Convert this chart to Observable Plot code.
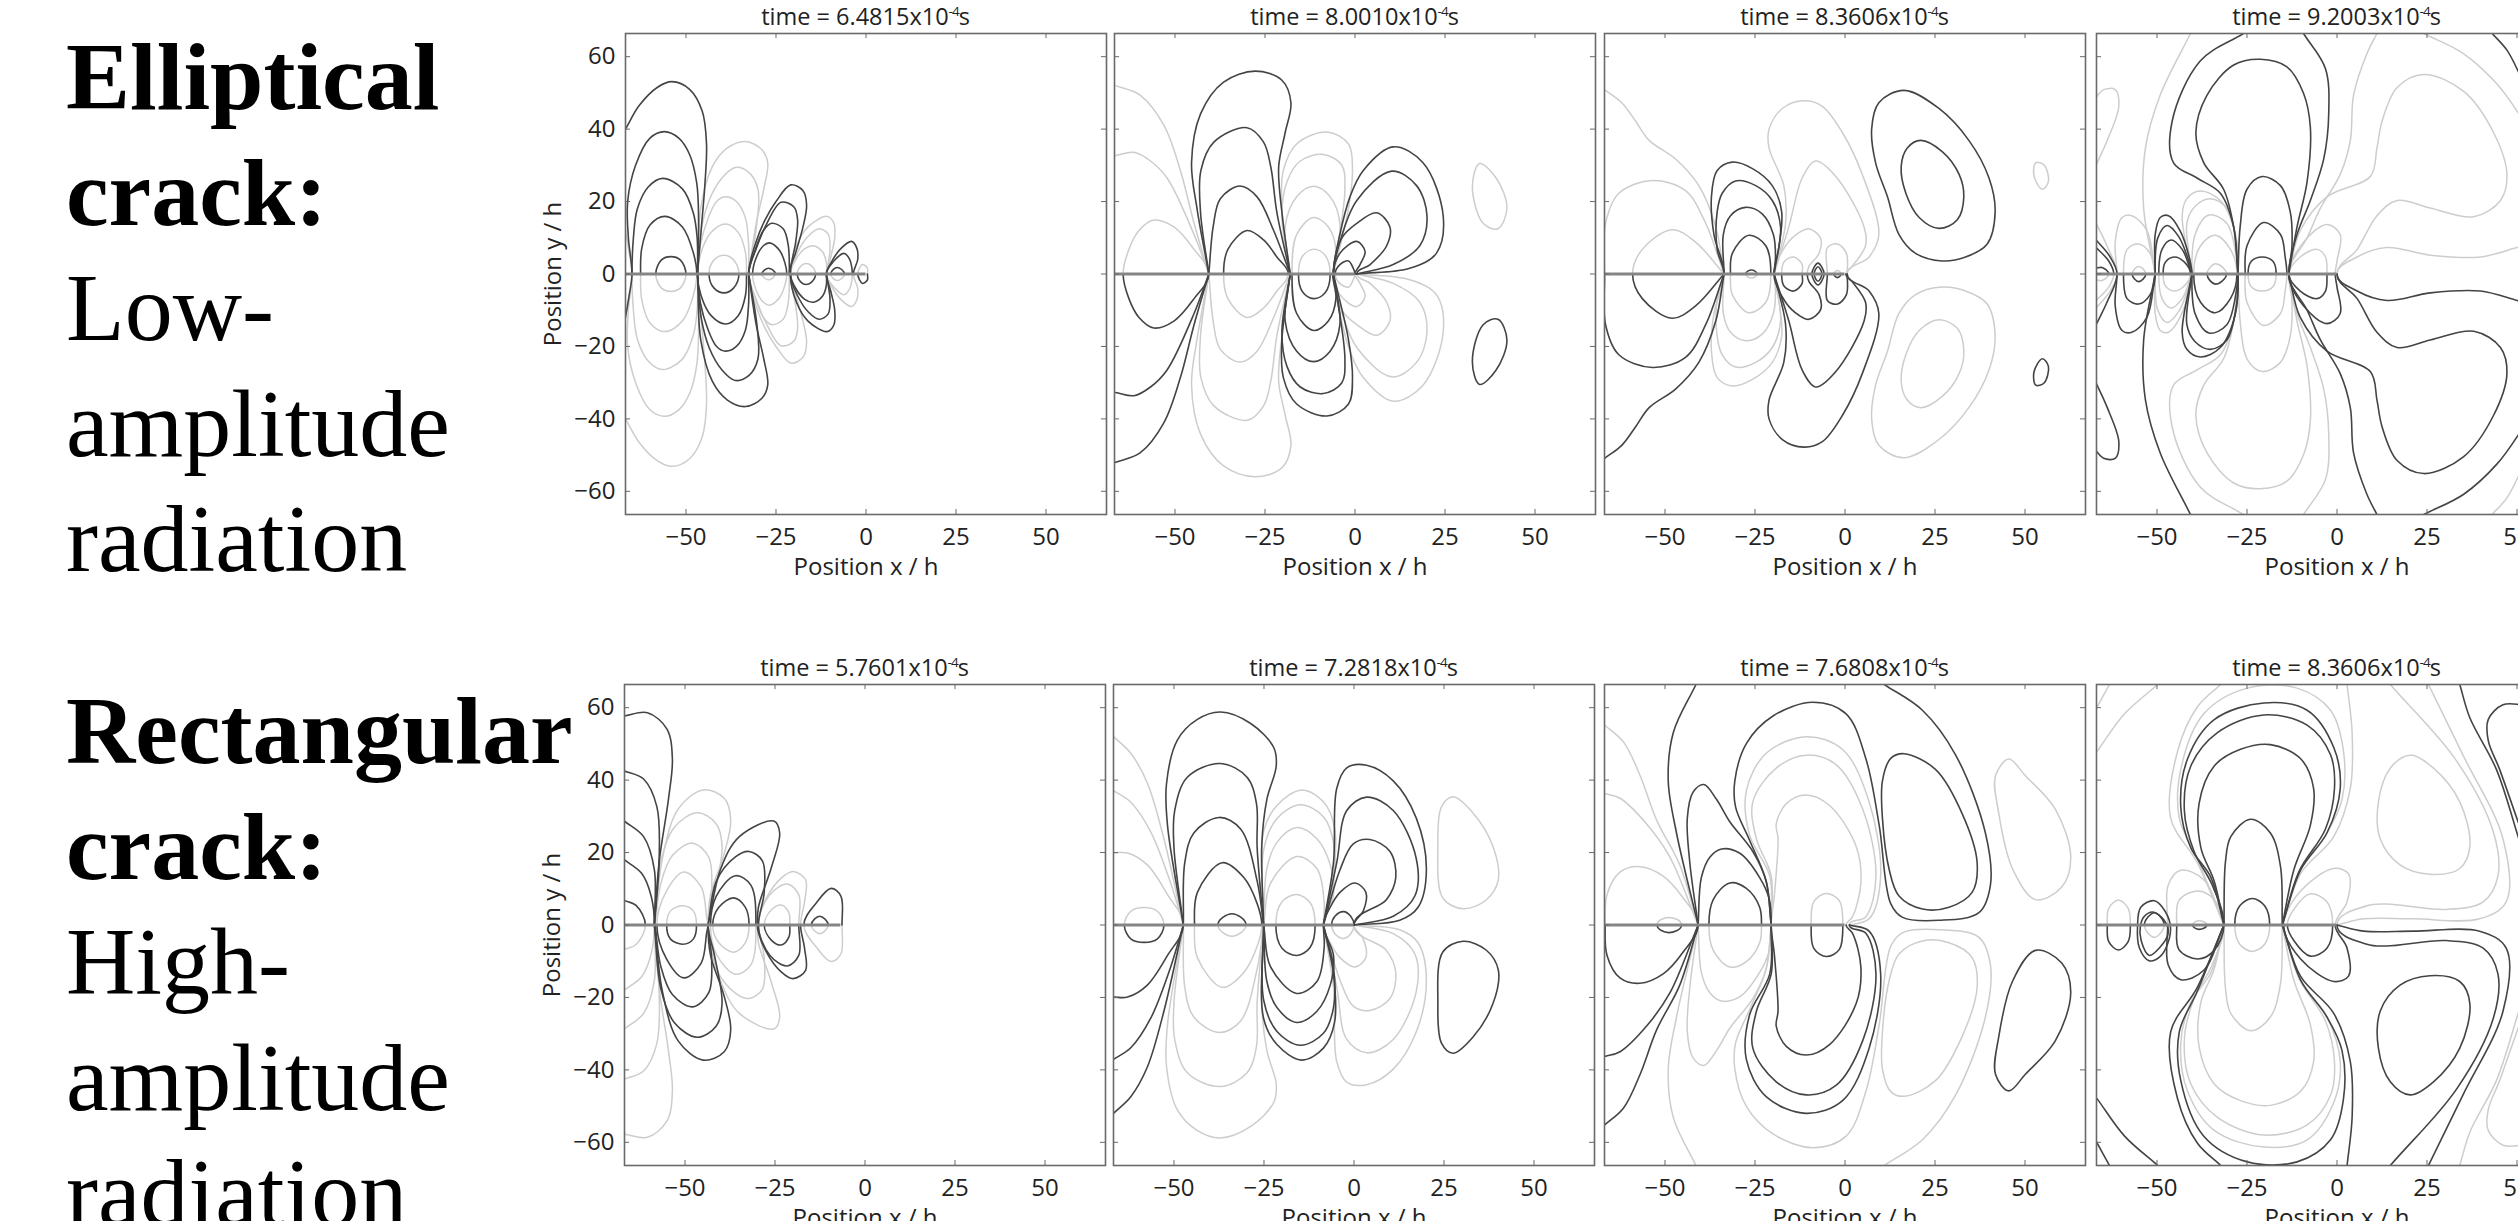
<!DOCTYPE html>
<html><head><meta charset="utf-8">
<script src="https://cdn.jsdelivr.net/npm/d3@7"></script>
<script src="https://cdn.jsdelivr.net/npm/@observablehq/plot@0.6"></script>
<style>
html,body{margin:0;padding:0;background:#fff;width:2518px;height:1221px;overflow:hidden}
#page{position:relative;width:2518px;height:1221px;overflow:hidden}
.side{position:absolute;left:66px;font-family:"Liberation Serif",serif;font-size:96px;line-height:115.5px;color:#000;white-space:nowrap}
.side b{font-weight:700}
.ttl{position:absolute;font-family:"Open Sans",sans-serif;font-size:23.5px;color:#222;text-align:center;width:481px;white-space:nowrap;line-height:28px}
.ttl sup{font-size:13.5px;line-height:0;letter-spacing:-1px}
svg{position:absolute}
</style></head><body><div id="page"></div>
<script>
// Each curve: flat list x,y,x,y in position units (h). A list whose first and last point match is a closed loop.
// "Dark" lists are dark above the crack and grey below it; "Grey" lists the reverse. "Fixed" lists are dark as drawn.
const p1Dark=[
[-66.8,40,-63,46.5,-58,51.5,-53.9,53.1,-49,51,-45.5,45,-44.3,36,-44.8,24,-45.8,12,-46.8,0],
[-46.8,0,-46.5,15,-47,25,-49,33,-52,37.5,-56,39.3,-60,37.5,-64,30,-66.2,20,-66,10,-65,0],
[-46.8,0,-46.9,10,-48,17,-51,23.5,-56.5,26.4,-60.5,24,-63.5,18,-64.6,10,-65,0],
[-47,0,-48,6,-51,13,-55.8,15.9,-60,13.5,-62.3,7,-62.6,0],
[-58.4,0,-56.8,3.9,-54.2,4.8,-51.6,3.9,-50,0],
[-32.6,0,-30.5,9,-28,15,-25,20,-20.9,24.6,-17.5,23,-16.5,19,-17.5,13,-19.5,6,-21.3,0],
[-32.6,0,-30.5,7,-28,13,-23.6,19.8,-20,18.5,-19,15,-19.5,9,-21,0],
[-32.6,0,-31,6,-28.5,12,-26.2,14,-23,12.5,-21.6,8,-21.3,0],
[-31.5,0,-30.5,4.5,-28.5,7.8,-26.8,8.6,-24,6.5,-22.5,3,-22,0],
[-28.9,0,-27.1,1.6,-25.2,0],
[-11,0,-9.5,3.5,-7,7,-4,9,-2.5,7,-2.3,4,-3.5,0],
[-11,0,-9,3.5,-6.1,5.7,-4.5,4,-3.9,1.5,-3.8,0],
[-9.8,0,-8,1.8,-6,0]];
const p1Grey=[
[-66.8,12,-65.8,6,-65,0],
[-46.8,0,-45.9,18.2,-42.7,29.6,-38.5,34.8,-33.5,36.6,-28.9,34.3,-27.3,30.7,-28.4,23.4,-30.5,14,-32.6,0],
[-46.8,0,-45.8,12,-43.5,20.5,-40,26.5,-36.3,29.4,-32.5,28,-30,23.4,-30.3,14,-32.6,0],
[-46.8,0,-46,8,-44,15,-41.5,20,-39,21.3,-36,20,-33.5,15.5,-32.6,8,-32.6,0],
[-46.8,0,-45.8,6,-43,11.5,-39,13.8,-35.5,11.5,-33.5,6,-33.2,0],
[-43.6,0,-42.2,3.9,-39.4,5.2,-36.8,3.9,-35.3,0],
[-21,0,-19.3,7.8,-16.1,13,-10.8,15.9,-8.9,14,-8.7,9.9,-9.8,4.7,-11,0],
[-21,0,-19,6,-16,10.5,-13,12.5,-10.5,11,-10,7,-10.5,3,-11,0],
[-21,0,-19.5,4,-17,7,-14.6,7.8,-12,6,-11,3,-11,0],
[-19.1,0,-18,2.3,-16.7,2.9,-15.2,2.3,-14,0],
[-2.3,0,-1.8,1.6,-1,2.6,0.4,1.6,0.4,0]];
const p2Dark=[
[-40.6,0,-43.9,18.2,-45.4,30.7,-42.9,44.2,-36.5,53,-27.7,56,-20.3,53.5,-17.8,47.3,-19.4,39,-21.2,29.6,-20.3,17,-18,0],
[-40.6,0,-42.9,17,-42.8,28.6,-39.2,36.4,-30,40.4,-25.4,36.4,-23.4,29.6,-21.7,17,-18,0],
[-40.6,0,-39.4,13,-37.4,20.8,-31.9,24.3,-27.2,21.3,-22.6,12,-18,0],
[-36.5,0,-35.3,6.8,-30,12,-25.4,9.4,-21.7,4.7,-18.5,0],
[-6,0,-4.2,10.9,-1.4,21.3,2.3,28.6,10.6,35.1,18.9,30.7,24.5,16,22.6,5.7,15.2,1.6,0.5,0],
[-6,0,-4.2,8.8,0.5,20.3,10.2,28.4,17.1,24.4,20,16,18,7.8,10.6,2.6,0.5,0],
[-6,0,-3.7,9.9,0.5,14,6,16.9,9.7,13,8.8,7.8,4.2,2.6,0.5,0],
[-6,0,-4.2,5.7,0.5,9,2.8,6.2,1.4,2.6,0,0],
[-5.5,0,-4.2,2.6,-1.8,3.6,-0.5,1.6,0,0]];
const p2Grey=[
[-64.4,0,-62.8,6.8,-60,12,-55.9,14.9,-50.3,13,-44.7,6.8,-40.6,0],
[-66.5,32.7,-61.4,33.6,-56.8,31.2,-52.2,26.5,-44.7,10.9,-40.6,0],
[-66.5,52,-59.7,49.4,-53.1,41.1,-48.5,28.6,-44.7,14,-40.6,0],
[-18,0,-20.3,18.2,-19.9,28.6,-16.2,35.9,-7.8,39.2,-1.8,35.9,-0.7,28.6,-1.8,18.2,-6,0],
[-18,0,-20.3,16,-18.9,25.5,-15.2,31.2,-8.8,33,-3.7,30.1,-2.8,23.4,-6,0],
[-18,0,-19.4,13,-16.2,21.3,-11.5,24.2,-6.9,21.3,-4.2,14,-6,0],
[-17.5,0,-16.2,10.9,-11.5,15.6,-7.4,13,-5.3,6.8,-6.2,0],
[-15.7,0,-14.6,4.9,-11.5,6.8,-8.3,5.2,-6.9,0],
[34.6,30.5,39.2,26.5,42.2,18.2,39.7,12.5,35.6,14,32.6,24.2,34.6,30.5]];
const p3Dark=[
[-33.6,0,-36.4,10.9,-37.1,21.3,-35.5,28.6,-31.3,30.9,-25.7,29.1,-20.2,24.4,-17.6,17.2,-18.3,7.8,-19.7,0],
[-33.6,0,-35.5,6.8,-35.5,17.2,-34.1,22.3,-30.4,25.7,-24.8,24.4,-20.2,20.3,-17.9,13,-19.7,0],
[-33.6,0,-33.8,10.9,-31.8,16.1,-27.6,18.4,-23,16.6,-19.9,10.9,-19.3,4.7,-19.7,0],
[-31.8,0,-31.3,5.7,-26.7,10.7,-22,7.8,-20.6,0],
[-27.6,0,-26,1.1,-24.4,0],
[16.4,50.7,26.1,45.7,34.4,36.9,40,26.5,41.7,17.2,39.5,8.3,33.5,4.7,27,3.6,19.6,5.7,15,10.9,11.8,21.3,8.5,30.7,7.4,40,9.4,47.3,16.4,50.7],
[21,36.9,27,33.8,31.7,27.5,33,21.3,31.2,15,26.1,12.6,20.6,15.6,16.9,22.3,15.6,29.6,17.3,34.8,21,36.9]];
const p3Grey=[
[-59,0,-56.3,6.8,-48,12.2,-41.5,8.8,-33.6,0],
[-66.8,0,-66.5,14,-62.8,22.3,-53.5,25.8,-44.3,23,-38.7,14,-33.6,0],
[-66.8,50.9,-62,47.3,-58.1,42.1,-54.4,36.9,-47,31.7,-40.6,24.4,-35.9,13,-33.6,0],
[-17.6,0,-16.9,3.4,-14.2,4.7,-11.9,2.6,-11.9,0],
[-19.7,0,-16.5,7.8,-12.8,11.4,-10,12.5,-6.8,9.9,-7.2,5.7,-10,2.1,-10.5,0],
[-19.7,0,-15.6,13,-11.9,26.5,-8.1,31.2,-2.6,27,5.3,13,5.7,7.8,2,2.1,0.2,0],
[-19.7,0,-16.5,14,-17,24.4,-21.1,34.8,-21.1,40,-17.4,45.7,-11.4,47.8,-6.3,46.3,-0.7,39,4.8,27.5,9.4,10.9,6.7,4.7,0.6,0],
[-4.9,0,-4.9,7.3,-2.1,8.3,0.4,5.7,0.6,0],
[-3.1,0,-2.1,1,-1.1,0],
[54.8,23.4,56.5,25.5,55.3,30.1,53,30.7,52.5,27,54.8,23.4]];
const p3Fixed=[
[-9.2,0,-7.5,3,-5.8,0,-7.5,-3,-9.2,0],
[-8.6,0,-7.5,2,-6.4,0,-7.5,-2,-8.6,0]];
const p4Dark=[
[-27.5,0,-28.7,13,-32.4,22.3,-38.9,26.5,-45.4,30.7,-45.8,42.1,-38,58.8,-26,66.4],
[-9.3,66.4,-3.2,56.7,-2.3,44.2,-3.7,31.7,-7.4,20.3,-11.1,10.9,-13.4,0],
[-27.5,0,-28.7,13,-31.5,23.4,-37,30.7,-39.2,38.9,-36.1,49.4,-28.7,57.7,-21.3,59.3,-13.9,57.2,-9.3,49.9,-7.4,40.5,-8.3,25.5,-11.1,13,-13.4,0],
[-27.5,0,-26.9,13,-25,23.4,-20.8,26.9,-15.7,24.4,-13,17.2,-12.5,7.8,-13.4,0],
[-25.5,0,-25,7.8,-20.4,14.2,-15.7,10.9,-14.4,4.7,-13.9,0],
[-24.7,0,-23.8,3.5,-20.8,4.7,-17.8,3.5,-16.9,0],
[-50.5,0,-50.5,10.9,-49.1,15.6,-46.8,16.1,-43.6,12,-40.8,3.6,-40.3,0],
[-50.5,0,-49.8,9.9,-47.2,13.4,-44,10.4,-41.2,3.6,-40.3,0],
[-49.5,0,-48.6,6.8,-46.1,9.4,-43,6.8,-40.9,1.6,-40.5,0],
[-48.3,0,-47.7,3.2,-45.2,4.7,-42.3,3.2,-40.7,0],
[-66.9,9.4,-63,4.7,-61.1,0],
[-66.9,7.3,-63.4,3.6,-62,0],
[-66.9,1.6,-65.3,1.8,-63.4,0],
[43.1,66.4,47.2,61.8,50.5,55.6,53,50]];
const p4Grey=[
[-13.4,0,-10.2,4.7,-5.6,6.8,-3.2,4.7,-2.8,0],
[-13.4,0,-9.3,8.8,-2.8,13.7,0.9,10.9,0,3.6,-0.5,0],
[0,0,5.6,4.7,13.9,7.3,25.9,5.2,39.8,4.7,50,7.3,53,8],
[-13.4,0,-10.2,12,-2.8,21.3,9.3,27,11.1,34.8,12.5,42.1,16.7,51.5,24.1,55.1,35.2,50.4,43.5,39,47.2,27.5,45.4,20.3,38,15.8,25.9,18.2,16.7,20.3,11.1,16.1,5.6,6.8,0,0],
[-13.4,0,-8.3,10,-4.6,18.2,0.9,27.5,3.7,36.9,4.6,49.4,8.3,60.8,11.1,66.4],
[24.1,66.4,35.2,60.8,44.4,52.5,50.5,44.2,53,40],
[-40.3,0,-43,16.1,-41.7,20.8,-38,22.9,-32.4,20.3,-28.2,10.9,-27.5,0],
[-40.3,0,-41.7,14,-39.4,18.7,-35.2,20.8,-30.6,18.2,-27.8,7.8,-27.5,0],
[-40.3,0,-39.4,11,-35.6,16.3,-30.6,14,-27.8,3.6,-27.5,0],
[-39.8,0,-37.9,7.8,-33.8,10.7,-29.6,6.8,-27.8,0],
[-36.1,0,-33.8,2.8,-30.7,0],
[-61.1,0,-61.6,8.8,-59.7,15.6,-57,16.1,-52.8,12,-50.5,0],
[-59.3,0,-58.3,6.8,-55.1,8.3,-51.9,5.7,-50.5,0],
[-56.9,0,-55.1,2.1,-53.1,0],
[-66.9,14,-63.9,7.8,-61.1,0],
[-66.9,30.1,-63.8,36.9,-60.6,46.3,-61.6,50.9,-64.8,50.9,-66.9,48.9],
[-50.5,0,-53.7,18.2,-53.2,34.8,-49.1,49.4,-40.7,66.4]];
const p5Dark=[
[-67,57.7,-60.4,58.6,-55,54.1,-53.5,45.9,-54.6,34.7,-57.2,17.2,-58.5,0],
[-67,42.6,-61.5,40.3,-57.8,32.6,-57.2,17.2,-58.5,0],
[-67,28.8,-61.5,24.4,-58.5,15.2,-58.5,0],
[-67,18.1,-62,14.2,-59.4,8,-58.5,0],
[-67,6.8,-63.6,5.4,-61,0],
[-43.6,0,-40.2,15.2,-34.9,24.4,-25.3,28.7,-23.7,25.4,-25.9,16.2,-29.6,4.9,-29.9,0],
[-43.6,0,-41.3,12.1,-36,18.8,-32.2,20.3,-28.5,17.7,-28,9,-29.6,0],
[-42.9,0,-41.3,8,-36,13.6,-31.7,11,-30.3,0],
[-42.3,0,-40.6,4.9,-36.5,7.5,-33.3,5,-32.2,0],
[-17,0,-13.6,6,-9.4,10.1,-6.7,8,-6.4,0],
[-14.9,0,-12.6,2.4,-10.2,0]];
const p5Grey=[
[-58.5,0,-56.2,18.7,-51.9,32,-45,37.3,-39.1,35,-37.3,29,-39.1,19.7,-42.9,8.4,-43.6,0],
[-58.5,0,-56.7,17.6,-53,26.9,-46.6,31,-41.3,27.9,-39.7,21.7,-41.8,8.4,-43.6,0],
[-58.3,0,-56.7,11.5,-53.5,19.2,-47.9,22.6,-43.4,18.7,-42.6,9.4,-43.6,0],
[-57.8,0,-55.1,9.4,-50.3,14.6,-45.5,10.5,-44,2.3,-43.6,0],
[-55.1,0,-54,3.9,-50.6,5.3,-47.7,3.9,-46.8,0],
[-29.9,0,-27.4,7.4,-23.2,13,-20,14.8,-16.5,12.5,-16.8,6.4,-17.9,0],
[-29.6,0,-26.4,8.4,-21.6,11.3,-18.4,8.4,-18.4,0],
[-28,0,-25.9,4.3,-23.2,5.5,-21.1,3.2,-20.9,0]];
const p6Dark=[
[-47.4,0,-51.8,27.5,-52.1,38.8,-49.1,51,-43.6,56.7,-37.1,58.8,-28.8,55.7,-22.3,49,-21.6,43.9,-24.2,34.7,-25.6,22.4,-25.1,0],
[-47.4,0,-50,21.3,-49.8,31.6,-46.3,40.8,-37.1,44.6,-29.7,40.8,-27.1,33.6,-26.9,21.3,-25.1,0],
[-47.4,0,-47,17.2,-44.5,25.4,-37.5,29.7,-31.5,26.5,-26.9,12.1,-25.1,0],
[-44.3,0,-43.5,9,-36.6,17.2,-30.6,13.1,-26.9,5.9,-25.6,0],
[-37.8,0,-33.9,3.1,-30,0],
[-8.5,0,-5.7,17.2,-4.8,37.7,-2,43.4,3.5,44.1,10.9,39.8,17.3,29.5,20.1,15.2,17.8,4.9,12.7,1.3,0,0],
[-8.5,0,-4.8,17.2,-2,31.6,3.5,35.3,10.9,31.6,17.3,18.3,16.9,8,10.9,2.4,0,0],
[-8.5,0,-3.9,15.2,-0.2,22.4,4.4,23.6,10,20.3,11.6,13.1,9,7,0,0],
[-8.5,0,-6.6,4.9,-3.9,9,0.3,11.6,3.3,9,2.6,3.9,0,0],
[-6.2,0,-5.3,2.4,-2.9,3.7,-0.9,2.4,0,0]];
const p6Grey=[
[-25.1,0,-25.1,25.8,-21.4,33,-14.5,37.3,-8.5,34,-5.4,26.9,-5.7,13.5,-8.5,0],
[-25.1,0,-25.1,20.7,-21.4,29.4,-14.9,33.2,-8.5,29.9,-5.7,22.8,-5.7,11.5,-8.5,0],
[-25.1,0,-24.2,15.6,-21.4,22.8,-15.9,26.9,-10.3,23.8,-6.6,16.6,-5.7,8.4,-8.5,0],
[-25.1,0,-23.2,11.5,-15.9,18.9,-10.3,15.6,-8.3,6.4,-8.5,0],
[-21.7,0,-20,6.4,-15.9,8.4,-12.2,6.2,-10.8,0],
[-63.8,0,-62,3.8,-58.3,4.8,-54.6,3.8,-52.8,0],
[-66.8,19.9,-62.9,19.9,-57.4,16.6,-51.8,8.4,-47.4,0],
[-66.8,37.1,-62,33.9,-56.5,25.8,-50.9,11.5,-47.4,0],
[-66.8,52,-62,47.4,-57.4,39.2,-52.8,23.8,-47.4,0],
[30.3,4.5,36.7,6.9,40.1,12.5,38.6,21.7,33,31,27.5,35.4,24.3,32.6,23.3,21.7,24.7,7.4,30.3,4.5]];
const p7Dark=[
[-41.4,66.4,-47.7,53.1,-49.1,39.8,-46.8,25.4,-40.8,0],
[-20.5,0,-21.9,12.1,-26.5,23.4,-30.4,32.6,-30.6,39.8,-27.4,50.1,-20,57.7,-8.9,61.5,0.3,58.3,5.8,45.9,9.5,27.5,12.7,5.9,16,2.1,26.1,1.3,37.2,3.4,40.4,11.1,39,25.4,30.7,47,21.5,59.3,10.9,66.4],
[-40.8,0,-43.1,17.2,-43.8,29.5,-42.2,36.7,-39.2,38.8,-35.7,34.7,-32,28.5,-25.6,20.3,-21.9,12.1,-20.5,0],
[-40.8,0,-39.9,13.1,-37.5,18.8,-34.3,21,-29.2,19.8,-23.7,13.1,-21,7,-20.5,0],
[-37.8,0,-36.6,7,-32,11.6,-27.4,10.1,-23.7,4.9,-23.2,0],
[16.4,47.3,25.2,42.9,32.6,30.6,36.7,17.2,35.3,9,28.9,4.9,21.5,4.4,15,8,12.3,15.2,10.4,29.5,10.4,39.8,12.7,46,16.4,47.3]];
const p7Grey=[
[52.9,7,60.2,10.5,62.7,18.7,58.4,32,50.1,41.2,45.5,45.8,41.8,41.2,42.7,30.9,46.5,15.6,52.9,7],
[-20.5,0,-19.6,8.4,-18.6,23.8,-19.1,27.9,-16.3,33.5,-10.8,35.9,-4.3,33,3.1,21.7,4.4,11.5,2.1,2.3,0.3,0],
[-20.5,0,-20.5,13.5,-24.6,23.8,-25.6,34,-19.1,43.3,-10.8,46.9,-2.5,44.3,4.9,32,8.6,13.5,5.8,2.3,1.2,0],
[-20.5,0,-20.9,13.5,-26.5,24.8,-27.4,37.1,-21.9,47.4,-10.8,52,-0.6,48.4,6.7,34,9.9,13.5,6.7,1.7,1.2,0],
[-9.4,0,-8.7,6.4,-5.3,8.7,-1.6,6.8,-0.6,0],
[-52.2,0,-49,2.1,-45.4,0],
[-66.6,0,-66.1,8.4,-62.5,14.6,-57,16.1,-50.5,13.5,-44.9,7.4,-40.8,0],
[-66.9,36.3,-62.5,35,-55.1,27.9,-48.6,18.7,-40.8,0],
[-66.9,55.3,-61.5,50.5,-56.9,41.2,-52.3,28.9,-45.9,16.6,-40.8,0]];
const p8Dark=[
[-31.4,0,-35,13.1,-40.6,21.3,-43.4,32.6,-41.5,45.9,-34.1,56.7,-20.3,61.3,-8.3,59.3,-0.9,49,0.9,37.7,-2.8,25.4,-10.1,15.2,-15.2,0],
[-31.4,0,-34.7,11.1,-39.7,20.3,-42.4,31.6,-40.6,43.9,-33.2,53.1,-20.3,58,-8.3,55.2,-1.8,47,-0.7,37.7,-3.2,26.5,-10.6,14.7,-15.2,0],
[-31.4,0,-34.1,12.1,-37.8,21.3,-38.3,33.6,-34.1,43.9,-26.8,48.5,-18.5,49.8,-10.1,45.9,-6.5,37.7,-7.4,27.5,-12,15.2,-15.2,0],
[-31.4,0,-31,17.2,-29.5,24.4,-24,29.2,-18.5,25.4,-15.7,16.2,-15.2,0],
[-28.4,0,-27,5.3,-23.5,7.3,-20.1,5.3,-18.7,0],
[34.1,66.4,36.9,57.2,44.3,42.9,50.3,24.4,52,19],
[52,60.8,46.1,60.8,42,56.7,42,51,45.2,42.9,50.3,28.5,52,24],
[-53.5,0,-50.7,3.4,-48,0]];
const p8Grey=[
[-31.4,0,-38.8,17.2,-46.2,29.5,-44.3,47.9,-38.8,60.2,-32.3,66.4],
[2.8,66.4,4.2,53.1,3.7,37.7,-0.9,24.4,-10.1,14.2,-15.2,0],
[-66.6,48,-59,58.3,-49.8,66.4],
[-66.9,59.7,-63.2,66.4],
[-31.4,0,-38.8,18.3,-43.8,29.5,-43.4,42.9,-37,58.3,-24.9,65.4,-11.1,65.4,-1.8,59.3,1.8,48,1.4,34.7,-2.8,25.4,-10.1,15.2,-15.2,0],
[-47,0,-46.9,11,-43.4,15.1,-37,12.5,-31.4,0],
[-44.5,0,-43.9,6.8,-38.7,9.4,-34.1,7,-31.4,0],
[-40.1,0,-38.3,1.2,-36.2,0],
[-14.8,0,-10.1,9.4,-0.9,15.6,3.2,14.1,2.8,6.4,-0.5,0],
[-13.8,0,-12,4.3,-7.4,8.6,-2.8,6.4,-1.2,0],
[0,0,7.4,1.7,21.2,1.7,39.6,1.7,47,6.4,46.1,23.8,35,46.9,25.4,66.4],
[0,0,8.3,5.3,13.8,5.8,30.4,4.3,40.6,6.4,44.7,13.5,43.4,25.8,33.2,45.3,14.8,66.4],
[25.8,14,34.1,15.6,36.9,21.7,34.1,34,26.8,43.3,20.3,46.9,14.8,43.3,11.5,34,12,23.8,17.5,16.6,25.8,14],
[-63.8,0,-63.4,4.6,-60.7,6.9,-58,4.6,-57.4,0]];
const p8Fixed=[
[-50.7,6.7,-47,2.4,-46.3,-2.3,-48.8,-8.4,-52.1,-9.9,-54.9,-6.3,-55.4,-0.2,-54.5,4.9,-50.7,6.7],
[-51.2,3.6,-48,1.3,-46.9,-2.3,-49.4,-6.4,-52.1,-8.4,-54.4,-4.3,-54.6,-0.2,-53.5,2.4,-51.2,3.6]];

const titles=["6.4815","8.0010","8.3606","9.2003","5.7601","7.2818","7.6808","8.3606"];
const crackEnds=[0,0,0,0,-6.7,0,0,0];
const xTicks=[-50,-25,0,25,50];
const yTicks=[-60,-40,-20,0,20,40,60];
const frameLefts=[625,1114,1604,2096,624,1113,1604,2096];
const frameTops=[33,33,33,33,684,684,684,684];
const sideText=[
 {top:19,lines:["<b>Elliptical</b>","<b>crack:</b>","Low-","amplitude","radiation"]},
 {top:673,lines:["<b>Rectangular</b>","<b>crack:</b>","High-","amplitude","radiation"]}];
const darkLists=[p1Dark,p2Dark,p3Dark,p4Dark,p5Dark,p6Dark,p7Dark,p8Dark];
const greyLists=[p1Grey,p2Grey,p3Grey,p4Grey,p5Grey,p6Grey,p7Grey,p8Grey];
const fixedLists=[[],[],p3Fixed,[],[],[],[],p8Fixed];

const page=document.getElementById("page");
const DARK="#444444",LIGHT="#cdcdcd",FRAME="#6a6a6a";
const W=481,H=481,ML=110,MR=12,MT=10,MB=64;
const XD=[-66.8,66.8],YD=[-66.4,66.4];
const AXIS_Y=MT+H/2;

// A d3 curve: smooth through the given points, with short lobes meeting the crack square-on.
function lobeCurve(context){
  let pts=[];
  return {
    lineStart(){pts=[];},
    point(x,y){pts.push([x,y]);},
    lineEnd(){
      const n=pts.length;
      if(!n) return;
      const d=[];
      for(let i=0;i<n-1;i++) d.push(Math.sqrt(Math.hypot(pts[i+1][0]-pts[i][0],pts[i+1][1]-pts[i][1]))||1);
      const tan=pts.map((p,i)=>{
        if(i===0||i===n-1){
          const q=i===0?pts[1]:pts[n-2], s=i===0?1:-1;
          const dx=(q[0]-p[0]),dy=(q[1]-p[1]),len=Math.hypot(dx,dy);
          const steep=Math.abs(dy)>Math.abs(dx)*0.5;
          if(Math.abs(p[1]-AXIS_Y)<0.5&&len<42&&steep) return [0,s*Math.sign(dy)*len/(d[i===0?0:n-2])];
          return [s*dx/(d[i===0?0:n-2]),s*dy/(d[i===0?0:n-2])];
        }
        const a=d[i-1],b=d[i],p0=pts[i-1],p2=pts[i+1];
        return [((p[0]-p0[0])/a*b+(p2[0]-p[0])/b*a)/(a+b),((p[1]-p0[1])/a*b+(p2[1]-p[1])/b*a)/(a+b)];
      });
      context.moveTo(pts[0][0],pts[0][1]);
      for(let i=0;i<n-1;i++){
        const h=d[i]/3;
        context.bezierCurveTo(pts[i][0]+tan[i][0]*h,pts[i][1]+tan[i][1]*h,pts[i+1][0]-tan[i+1][0]*h,pts[i+1][1]-tan[i+1][1]*h,pts[i+1][0],pts[i+1][1]);
      }
    }
  };
}
function rows(list,sign,shade){
  const out=[];
  list.forEach((c,i)=>{
    const closed=c.length>4&&c[0]===c[c.length-2]&&c[1]===c[c.length-1];
    const n=closed?c.length-2:c.length;
    for(let k=0;k<n;k+=2) out.push({x:c[k],y:sign*c[k+1],id:shade+"_"+i,closed});
  });
  return out;
}
sideText.forEach(s=>{
  const d=document.createElement("div");d.className="side";d.style.top=s.top+"px";
  d.innerHTML=s.lines.join("<br>");page.appendChild(d);
});
titles.forEach((t,i)=>{
  const col=i%4;
  const grey=[...rows(darkLists[i],-1,"a"),...rows(greyLists[i],1,"b")];
  const dark=[...rows(darkLists[i],1,"c"),...rows(greyLists[i],-1,"d"),...rows(fixedLists[i],1,"e")];
  const lineOpts=(data,color,closed)=>Plot.line(data.filter(d=>d.closed===closed),{x:"x",y:"y",z:"id",stroke:color,strokeWidth:color===DARK?1.6:1.5,curve:closed?"catmull-rom-closed":lobeCurve,clip:"frame"});
  const marks=[
    lineOpts(grey,LIGHT,false),lineOpts(grey,LIGHT,true),
    lineOpts(dark,DARK,false),lineOpts(dark,DARK,true),
    Plot.ruleY([0],{x1:XD[0],x2:crackEnds[i],stroke:"#858585",strokeWidth:2.8}),
    Plot.ruleX(xTicks,{y1:YD[0],y2:YD[0]+1.4,stroke:FRAME,strokeWidth:1}),
    Plot.ruleX(xTicks,{y1:YD[1]-1.4,y2:YD[1],stroke:FRAME,strokeWidth:1}),
    Plot.ruleY(yTicks,{x1:XD[0],x2:XD[0]+1.4,stroke:FRAME,strokeWidth:1}),
    Plot.ruleY(yTicks,{x1:XD[1]-1.4,x2:XD[1],stroke:FRAME,strokeWidth:1}),
    Plot.frame({stroke:FRAME,strokeWidth:1.6}),
    Plot.axisX(xTicks,{anchor:"bottom",tickSize:0,tickPadding:13,fontSize:24,label:"Position x / h",labelAnchor:"center",labelArrow:"none",labelOffset:60,color:"#222"})
  ];
  if(col===0) marks.push(Plot.axisY(yTicks,{anchor:"left",tickSize:0,tickPadding:10,fontSize:24,label:"Position y / h",labelAnchor:"center",labelArrow:"none",labelOffset:82,color:"#222"}));
  else marks.push(Plot.axisY({ticks:[],label:null}));
  const svg=Plot.plot({
    width:ML+W+MR,height:MT+H+MB,marginLeft:ML,marginRight:MR,marginTop:MT,marginBottom:MB,
    x:{domain:XD},y:{domain:YD},
    style:{background:"transparent",fontFamily:"'Open Sans',sans-serif",fontSize:"24px",color:"#222",overflow:"visible"},
    marks
  });
  svg.style.left=(frameLefts[i]-ML)+"px";
  svg.style.top=(frameTops[i]-MT)+"px";
  page.appendChild(svg);
  const h=document.createElement("div");h.className="ttl";
  h.style.left=frameLefts[i]+"px";h.style.top=(frameTops[i]-31)+"px";
  h.innerHTML="time = "+t+"x10<sup>-4</sup>s";
  page.appendChild(h);
});
</script></body></html>
